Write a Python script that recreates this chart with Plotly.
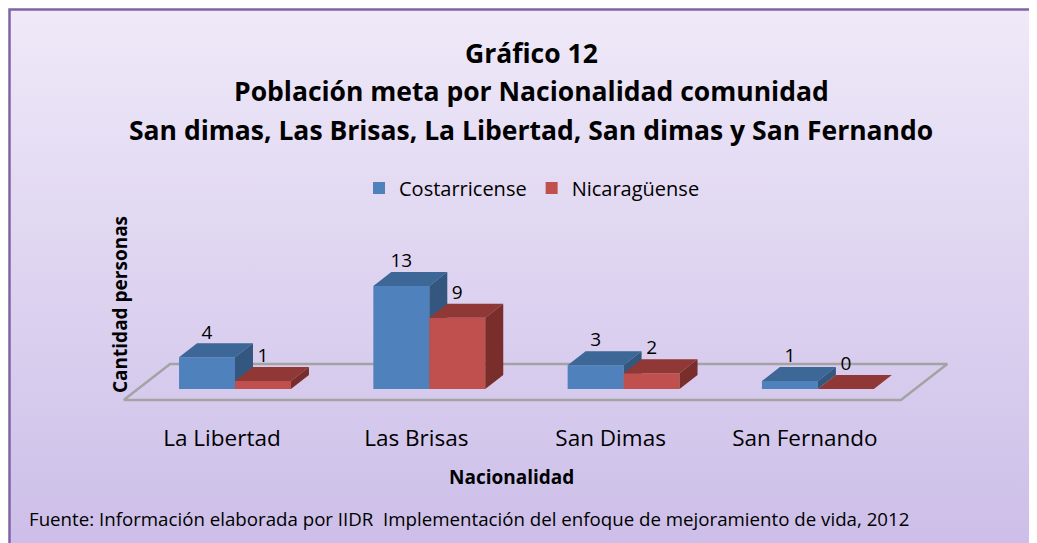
import base64
import plotly.graph_objects as go

# ---------------- data ----------------
categories = ["La Libertad", "Las Brisas", "San Dimas", "San Fernando"]
costarricense = [4, 13, 3, 1]
nicaraguense = [1, 9, 2, 0]
series_names = ["Costarricense", "Nicaragüense"]

title_lines = [
    "Gráfico 12",
    "Población meta por Nacionalidad comunidad",
    "San dimas, Las Brisas, La Libertad, San dimas y San Fernando",
]
x_title = "Nacionalidad"
y_title = "Cantidad personas"
source_text = "Fuente: Información elaborada por IIDR  Implementación del enfoque de mejoramiento de vida, 2012"

# ---------------- style ----------------
PAGE_OFF = 8                     # browser body margin
W_PX, H_PX = 1037 - PAGE_OFF, 543 - PAGE_OFF
FONT = "Open Sans"
BAR_W = 0.288          # width of one bar in category units
DX, DY = 0.0926, 1.77  # 3D depth vector (x units, y units)
FLOOR_FRONT, FLOOR_BACK = -0.786, 1.79  # floor depth as multiples of depth vector

face_colors = {
    0: ("#4f81bd", "#3c6797", "#34577f"),   # front, top, side
    1: ("#c0504d", "#8f3836", "#7a2e2c"),
}

# plot-area placement (window pixels)
PL, PR, PT, PB = 100, 1000, 215, 422
X0_PX, X_UNIT = 235.0, 194.3
Y0_PX, Y_UNIT = 389.0, 7.92
x_range = [(PL - X0_PX) / X_UNIT, (PR - X0_PX) / X_UNIT]
y_range = [(Y0_PX - PB) / Y_UNIT, (Y0_PX - PT) / Y_UNIT]


def px_x(p):
    return (p - PAGE_OFF) / W_PX


def px_y(p):
    return 1 - (p - PAGE_OFF) / H_PX


fig = go.Figure()

# floor parallelogram
fx0, fx1 = -0.5, len(categories) - 0.5
floor_x = [fx0 + DX * FLOOR_FRONT, fx1 + DX * FLOOR_FRONT, fx1 + DX * FLOOR_BACK,
           fx0 + DX * FLOOR_BACK, fx0 + DX * FLOOR_FRONT]
floor_y = [DY * FLOOR_FRONT, DY * FLOOR_FRONT, DY * FLOOR_BACK, DY * FLOOR_BACK, DY * FLOOR_FRONT]
fig.add_trace(go.Scatter(x=floor_x, y=floor_y, mode="lines",
                         line=dict(color="#a3a3a3", width=2.5),
                         hoverinfo="skip", showlegend=False))

# legend entries (zero-height bars, only used for the legend keys)
for s, name in enumerate(series_names):
    fig.add_trace(go.Bar(x=list(range(len(categories))), y=[0] * len(categories), name=name,
                         marker=dict(color=face_colors[s][0], line=dict(width=0)),
                         hoverinfo="skip"))

all_series = [costarricense, nicaraguense]
for s, vals in enumerate(all_series):
    fronts_x, fronts_y, tops_x, tops_y, sides_x, sides_y = [], [], [], [], [], []
    for i, v in enumerate(vals):
        x0 = i - BAR_W + s * BAR_W
        x1 = x0 + BAR_W
        if v > 0:
            fronts_x += [x0, x1, x1, x0, x0, None]
            fronts_y += [0, 0, v, v, 0, None]
            sides_x += [x1, x1 + DX, x1 + DX, x1, x1, None]
            sides_y += [0, DY, v + DY, v, 0, None]
        tops_x += [x0, x1, x1 + DX, x0 + DX, x0, None]
        tops_y += [v, v, v + DY, v + DY, v, None]
    front, top, side = face_colors[s]
    for xs, ys, col in [(fronts_x, fronts_y, front), (tops_x, tops_y, top), (sides_x, sides_y, side)]:
        fig.add_trace(go.Scatter(x=xs, y=ys, mode="lines", fill="toself",
                                 fillcolor=col, line=dict(width=0, color=col),
                                 hoverinfo="skip", showlegend=False))

# data labels
for s, vals in enumerate(all_series):
    lx = [i - BAR_W / 2 + s * BAR_W for i in range(len(vals))]
    ly = [v + DY + 1.2 for v in vals]
    fig.add_trace(go.Scatter(x=lx, y=ly, mode="text", text=[str(v) for v in vals],
                             textfont=dict(family=FONT, size=19, color="#000000"),
                             hoverinfo="skip", showlegend=False))

# background gradient (svg data uri)
svg = ('<svg xmlns="http://www.w3.org/2000/svg" width="100" height="100" preserveAspectRatio="none">'
       '<defs><linearGradient id="g" x1="0" y1="0" x2="0" y2="1">'
       '<stop offset="0" stop-color="#efe9f8"/><stop offset="1" stop-color="#c9bae7"/>'
       '</linearGradient></defs><rect width="100" height="100" fill="url(#g)"/></svg>')
src = "data:image/svg+xml;base64," + base64.b64encode(svg.encode()).decode()

annotations = []
for k, line in enumerate(title_lines):
    annotations.append(dict(text="<b>%s</b>" % line, x=px_x(531), y=px_y(53 + 38.5 * k),
                            xref="paper", yref="paper", showarrow=False,
                            xanchor="center", yanchor="middle",
                            font=dict(family=FONT, size=26.5, color="#000000")))
annotations.append(dict(text="<b>%s</b>" % y_title, x=px_x(120), y=px_y(305), textangle=-90,
                        xref="paper", yref="paper", showarrow=False,
                        xanchor="center", yanchor="middle",
                        font=dict(family=FONT, size=19, color="#000000")))
annotations.append(dict(text="<b>%s</b>" % x_title, x=px_x(511), y=px_y(477),
                        xref="paper", yref="paper", showarrow=False,
                        xanchor="center", yanchor="middle",
                        font=dict(family=FONT, size=19, color="#000000")))
annotations.append(dict(text=source_text, x=px_x(27), y=px_y(518),
                        xref="paper", yref="paper", showarrow=False,
                        xanchor="left", yanchor="middle",
                        font=dict(family=FONT, size=18.7, color="#000000")))

fig.update_layout(
    width=W_PX, height=H_PX,
    margin=dict(l=0, r=0, t=0, b=0),
    paper_bgcolor="#ffffff", plot_bgcolor="rgba(0,0,0,0)",
    images=[dict(source=src, xref="paper", yref="paper", x=px_x(10), y=px_y(10),
                 sizex=1.1, sizey=1.1, sizing="stretch", layer="below",
                 xanchor="left", yanchor="top")],
    shapes=[dict(type="rect", xref="paper", yref="paper",
                 x0=px_x(9.5), y0=px_y(9.5), x1=px_x(1100), y1=px_y(600),
                 line=dict(color="#8064a2", width=2.5), layer="below")],
    xaxis=dict(domain=[px_x(PL), px_x(PR)], range=x_range, showgrid=False, zeroline=False,
               showline=False, ticks="",
               tickvals=[i - 0.067 for i in range(len(categories))], ticktext=categories,
               tickfont=dict(family=FONT, size=22.5, color="#000000")),
    yaxis=dict(domain=[px_y(PB), px_y(PT)], range=y_range, showgrid=False, zeroline=False,
               showline=False, showticklabels=False, ticks=""),
    legend=dict(orientation="h", x=px_x(532), y=px_y(188), xanchor="center", yanchor="middle",
                font=dict(family=FONT, size=20, color="#000000"), bgcolor="rgba(0,0,0,0)",
                itemwidth=30, traceorder="normal"),
    annotations=annotations,
    showlegend=True,
)

fig.write_html("out.html")
